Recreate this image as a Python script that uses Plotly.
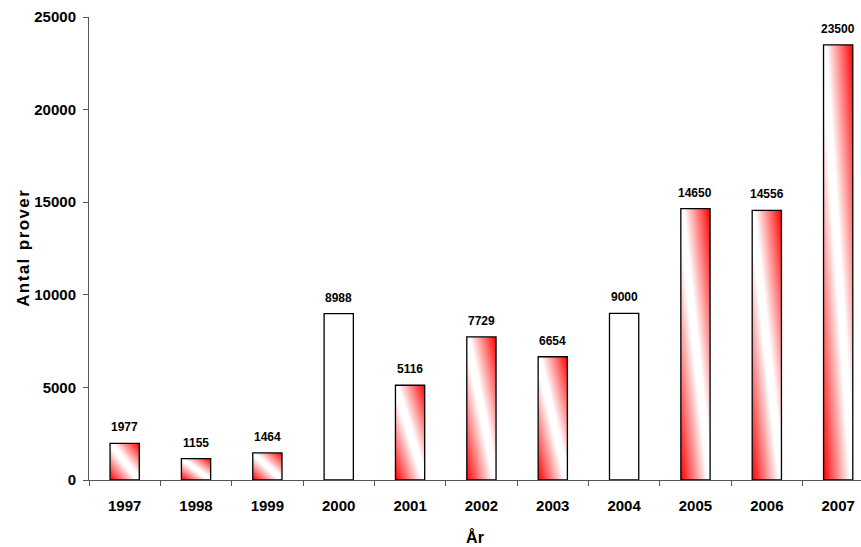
import base64
import plotly.graph_objects as go

years = ["1997", "1998", "1999", "2000", "2001", "2002", "2003", "2004", "2005", "2006", "2007"]
values = [1977, 1155, 1464, 8988, 5116, 7729, 6654, 9000, 14650, 14556, 23500]
gradient_fill = [True, True, True, False, True, True, True, False, True, True, True]
y_ticks = [0, 5000, 10000, 15000, 20000, 25000]

BAR_W = 0.41
FONT = "Liberation Sans, Arial, sans-serif"

svg = ('<svg xmlns="http://www.w3.org/2000/svg" width="100" height="100" viewBox="0 0 1 1" '
       'preserveAspectRatio="none"><defs><linearGradient id="g" x1="0" y1="1" x2="1" y2="0">'
       '<stop offset="0" stop-color="#FF0000"/><stop offset="0.45" stop-color="#FFFFFF"/>'
       '<stop offset="0.55" stop-color="#FFFFFF"/><stop offset="1" stop-color="#FF0000"/>'
       '</linearGradient></defs>'
       '<rect x="0" y="0" width="1" height="1" fill="url(#g)"/></svg>')
src = "data:image/svg+xml;base64," + base64.b64encode(svg.encode()).decode()

fig = go.Figure()
fig.add_trace(go.Bar(
    x=years, y=values, width=BAR_W,
    marker=dict(color=["rgba(0,0,0,0)" if g else "white" for g in gradient_fill],
                line=dict(color="black", width=1.3)),
    hoverinfo="x+y",
))

images = []
for i, (v, g) in enumerate(zip(values, gradient_fill)):
    if g:
        images.append(dict(source=src, xref="x", yref="y", x=i - BAR_W / 2, y=v,
                           sizex=BAR_W, sizey=v, xanchor="left", yanchor="top",
                           sizing="stretch", layer="below"))

annotations = [dict(x=i, y=v, xref="x", yref="y", text=str(v), showarrow=False,
                    yanchor="bottom", yshift=7,
                    font=dict(family=FONT, size=12, color="black", weight="bold"))
               for i, v in enumerate(values)]

fig.update_layout(
    width=861, height=547,
    margin=dict(l=89, r=0, t=17, b=67),
    paper_bgcolor="white", plot_bgcolor="white",
    showlegend=False, bargap=0.59,
    images=images, annotations=annotations,
    font=dict(family=FONT, color="black"),
)
fig.update_xaxes(
    type="category", range=[-0.5, 10.32],
    showline=True, linecolor="#555", linewidth=1,
    ticks="outside", tickson="boundaries", ticklen=5, tickcolor="#555",
    showgrid=False, zeroline=False,
    tickfont=dict(family=FONT, size=15, weight="bold"),
    ticklabelstandoff=12,
    title=dict(text="År", font=dict(family=FONT, size=16, weight="bold"), standoff=18),
)
fig.update_yaxes(
    range=[0, 25000], tickvals=y_ticks, tickformat="d",
    showline=True, linecolor="#555", linewidth=1,
    ticks="outside", ticklen=5, tickcolor="#555",
    showgrid=False, zeroline=False,
    tickfont=dict(family=FONT, size=15, weight="bold"),
    ticklabelstandoff=4,
    title=dict(text="\u200a".join("Antal") + "\u2002" + "\u200a".join("prover"),
               font=dict(family=FONT, size=17, weight="bold"), standoff=0),
)
fig.write_html("out.html")
